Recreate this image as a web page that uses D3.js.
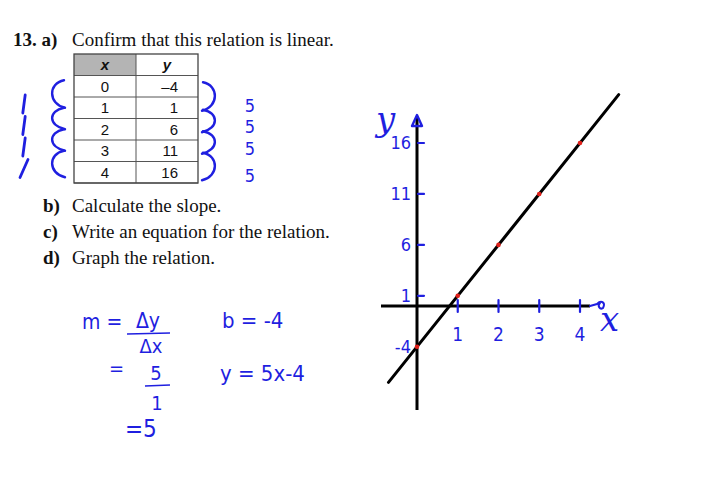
<!DOCTYPE html>
<html>
<head>
<meta charset="utf-8">
<script src="https://cdn.jsdelivr.net/npm/d3@7"></script>
<style>
  html, body { margin: 0; padding: 0; background: #fff; }
  svg { display: block; }
</style>
</head>
<body>
<script>
// ---------- data ----------
const xValues = [0, 1, 2, 3, 4];
const yValues = [-4, 1, 6, 11, 16];
const xTicks = [1, 2, 3, 4];
const yTicks = [16, 11, 6, 1, -4];
const xTickLabels = ["1", "2", "3", "4"];
const yTickLabels = ["16", "11", "6", "1", "-4"];
const lineXDomain = [-0.7, 4.95];
const questionLines = [
  { label: "b)", text: "Calculate the slope." },
  { label: "c)", text: "Write an equation for the relation." },
  { label: "d)", text: "Graph the relation." }
];

const BLUE = "#1f1fe0";
const W = 704, H = 485;
const svg = d3.select("body").append("svg").attr("width", W).attr("height", H);
svg.append("rect").attr("width", W).attr("height", H).attr("fill", "#fff");

const serif = "'Liberation Serif', 'Times New Roman', serif";
const sans = "'Liberation Sans', Arial, sans-serif";
const hand = "'Liberation Sans Narrow', 'DejaVu Sans Condensed', 'Liberation Sans', sans-serif";

// ---------- printed text ----------
const title = svg.append("text").attr("x", 13).attr("y", 46)
  .attr("font-family", serif).attr("font-size", 19).attr("fill", "#111");
title.append("tspan").attr("font-weight", "bold").text("13. a)");
title.append("tspan").attr("x", 72).text("Confirm that this relation is linear.");

const qScale = d3.scalePoint().domain(questionLines.map(d => d.label)).range([212, 264]);
questionLines.forEach(q => {
  svg.append("text").attr("x", 43).attr("y", qScale(q.label))
    .attr("font-family", serif).attr("font-size", 19).attr("font-weight", "bold").attr("fill", "#111").text(q.label);
  svg.append("text").attr("x", 72).attr("y", qScale(q.label))
    .attr("font-family", serif).attr("font-size", 19).attr("fill", "#111").text(q.text);
});

// ---------- table ----------
const colScale = d3.scaleBand().domain(["x", "y"]).range([74, 198]);
const rowScale = d3.scaleBand().domain(["h", ...xValues.map(String)]).range([54, 183]);
const tbl = svg.append("g");
tbl.append("rect").attr("x", colScale("x")).attr("y", rowScale("h"))
  .attr("width", colScale.bandwidth()).attr("height", rowScale.bandwidth()).attr("fill", "#b4b4b4");
rowScale.domain().forEach(r => {
  tbl.append("line").attr("x1", 74).attr("x2", 198)
    .attr("y1", rowScale(r) + rowScale.bandwidth()).attr("y2", rowScale(r) + rowScale.bandwidth())
    .attr("stroke", "#555").attr("stroke-width", 1);
});
tbl.append("line").attr("x1", colScale("y")).attr("x2", colScale("y")).attr("y1", 54).attr("y2", 183)
  .attr("stroke", "#555");
tbl.append("rect").attr("x", 74).attr("y", 54).attr("width", 124).attr("height", 129)
  .attr("fill", "none").attr("stroke", "#444").attr("stroke-width", 1.3);
["x", "y"].forEach(c => {
  tbl.append("text").attr("x", colScale(c) + colScale.bandwidth() / 2)
    .attr("y", rowScale("h") + rowScale.bandwidth() / 2 + 5)
    .attr("text-anchor", "middle").attr("font-family", sans).attr("font-size", 15)
    .attr("font-weight", "bold").attr("font-style", "italic").attr("fill", "#111").text(c);
});
const rc = r => rowScale(String(r)) + rowScale.bandwidth() / 2;
xValues.forEach((xv, i) => {
  tbl.append("text").attr("x", colScale("x") + colScale.bandwidth() / 2).attr("y", rc(xv) + 5.5)
    .attr("text-anchor", "middle").attr("font-family", sans).attr("font-size", 15).attr("fill", "#111").text(xv);
  tbl.append("text").attr("x", colScale("y") + colScale.bandwidth() - 20).attr("y", rc(xv) + 5.5)
    .attr("text-anchor", "end").attr("font-family", sans).attr("font-size", 15).attr("fill", "#111")
    .text(yValues[i] < 0 ? "\u2013" + Math.abs(yValues[i]) : yValues[i]);
});

// ---------- handwritten differences ----------
const dx = d3.pairs(xValues, (a, b) => b - a);
const dy = d3.pairs(yValues, (a, b) => b - a);
const ann = svg.append("g").attr("stroke", BLUE).attr("fill", "none")
  .attr("stroke-width", 2.4).attr("stroke-linecap", "round");
dx.forEach((d, i) => {
  let a = rc(xValues[i]), b = rc(xValues[i + 1]);
  if (i === 0) a -= 6;
  if (i === dx.length - 1) b += 5;
  ann.append("path").attr("d", `M64,${a} C48,${a + 3} 48,${b - 4} 65,${b}`);
  const a2 = a + 2, b2 = b + 3;
  ann.append("path").attr("d", `M203,${a2} C219,${a2 + 3} 219,${b2 - 4} 202,${b2}`);
  const m = (rc(xValues[i]) + rc(xValues[i + 1])) / 2 + 7;
  const tilt = i === dx.length - 1 ? 4 : 1.2;
  ann.append("line").attr("x1", 24 + tilt).attr("y1", m - 9).attr("x2", 24 - tilt).attr("y2", m + 9)
    .attr("stroke-width", 2.8);
});
dy.forEach((d, i) => {
  const c = (rc(xValues[i]) + rc(xValues[i + 1])) / 2 + 8 + (i === dy.length - 1 ? 6 : 0);
  svg.append("text").attr("x", 250).attr("y", c + 6.5).attr("text-anchor", "middle")
    .attr("font-family", hand).attr("font-size", 18).attr("fill", BLUE).text(d);
});

// ---------- handwritten working ----------
const slope = dy[0] / dx[0];
const intercept = yValues[xValues.indexOf(0)];
const hw = svg.append("g").attr("font-family", hand).attr("fill", BLUE);
hw.append("text").attr("x", 82).attr("y", 329).attr("font-size", 21).text("m =");
hw.append("text").attr("x", 148).attr("y", 328).attr("font-size", 21).attr("text-anchor", "middle").text("\u0394y");
hw.append("line").attr("x1", 127).attr("x2", 170).attr("y1", 334).attr("y2", 333).attr("stroke", BLUE).attr("stroke-width", 1.6);
hw.append("text").attr("x", 151).attr("y", 353).attr("font-size", 20).attr("text-anchor", "middle").text("\u0394x");
hw.append("text").attr("x", 109).attr("y", 375).attr("font-size", 20).text("=");
hw.append("text").attr("x", 156).attr("y", 380).attr("font-size", 20).attr("text-anchor", "middle").text(dy[0]);
hw.append("line").attr("x1", 145).attr("x2", 170).attr("y1", 386).attr("y2", 385).attr("stroke", BLUE).attr("stroke-width", 1.6);
hw.append("text").attr("x", 157).attr("y", 410).attr("font-size", 20).attr("text-anchor", "middle").text(dx[0]);
hw.append("text").attr("x", 125).attr("y", 437).attr("font-size", 24).text("=" + slope);
hw.append("text").attr("x", 222).attr("y", 328).attr("font-size", 22).text("b = -" + Math.abs(intercept));
hw.append("text").attr("x", 220).attr("y", 381).attr("font-size", 22).text("y = " + slope + "x-" + Math.abs(intercept));

// ---------- graph ----------
const x = d3.scaleLinear().domain([0, 4]).range([417, 580]);
const y = d3.scaleLinear().domain([0, 16]).range([306, 143]);
const g = svg.append("g");

g.append("line").attr("x1", 381).attr("x2", 590).attr("y1", y(0)).attr("y2", y(0))
  .attr("stroke", "#000").attr("stroke-width", 3);
g.append("line").attr("x1", x(0)).attr("x2", x(0)).attr("y1", 118).attr("y2", 410)
  .attr("stroke", "#000").attr("stroke-width", 3);
g.append("path").attr("d", `M${x(0) - 5},${126} L${x(0)},${115} L${x(0) + 5},${126} Z`)
  .attr("fill", "none").attr("stroke", BLUE).attr("stroke-width", 2.4).attr("stroke-linejoin", "round");
g.append("path").attr("d", `M590,${y(0)} L597,${y(0) - 2} C601,${y(0) - 6} 606,${y(0) - 4} 603,${y(0) + 2} C600,${y(0) + 4} 597,${y(0)} 600,${y(0) - 3}`)
  .attr("fill", "none").attr("stroke", BLUE).attr("stroke-width", 2).attr("stroke-linecap", "round");

g.append("text").attr("x", 376).attr("y", 131).attr("font-family", "'DejaVu Serif', serif").attr("font-style", "italic")
  .attr("font-size", 34).attr("fill", BLUE).text("y");
g.append("text").attr("x", 600).attr("y", 331).attr("font-family", "'DejaVu Serif', serif").attr("font-style", "italic")
  .attr("font-size", 34).attr("fill", BLUE).text("x");

const tk = g.append("g").attr("stroke", BLUE).attr("stroke-width", 2.2).attr("stroke-linecap", "round");
yTicks.filter(v => v !== -4).forEach(v => {
  tk.append("line").attr("x1", x(0) + 1).attr("x2", x(0) + 7).attr("y1", y(v)).attr("y2", y(v));
});
xTicks.forEach(v => {
  tk.append("line").attr("x1", x(v)).attr("x2", x(v)).attr("y1", y(0) - 6).attr("y2", y(0) + 6);
});
yTicks.forEach((v, i) => {
  g.append("text").attr("x", x(0) - 6).attr("y", y(v) + 6).attr("text-anchor", "end")
    .attr("font-family", hand).attr("font-size", 18).attr("fill", BLUE).text(yTickLabels[i]);
});
xTicks.forEach((v, i) => {
  g.append("text").attr("x", x(v)).attr("y", 341).attr("text-anchor", "middle")
    .attr("font-family", hand).attr("font-size", 19).attr("fill", BLUE).text(xTickLabels[i]);
});

const f = v => slope * v + intercept;
g.append("path").datum(lineXDomain)
  .attr("d", d3.line().x(d => x(d)).y(d => y(f(d))))
  .attr("stroke", "#000").attr("stroke-width", 3).attr("fill", "none").attr("stroke-linecap", "round");

g.selectAll("circle.pt").data(xValues).join("circle").attr("class", "pt")
  .attr("cx", d => x(d)).attr("cy", (d, i) => y(yValues[i])).attr("r", 2.3).attr("fill", "#e0201a");
</script>
</body>
</html>
